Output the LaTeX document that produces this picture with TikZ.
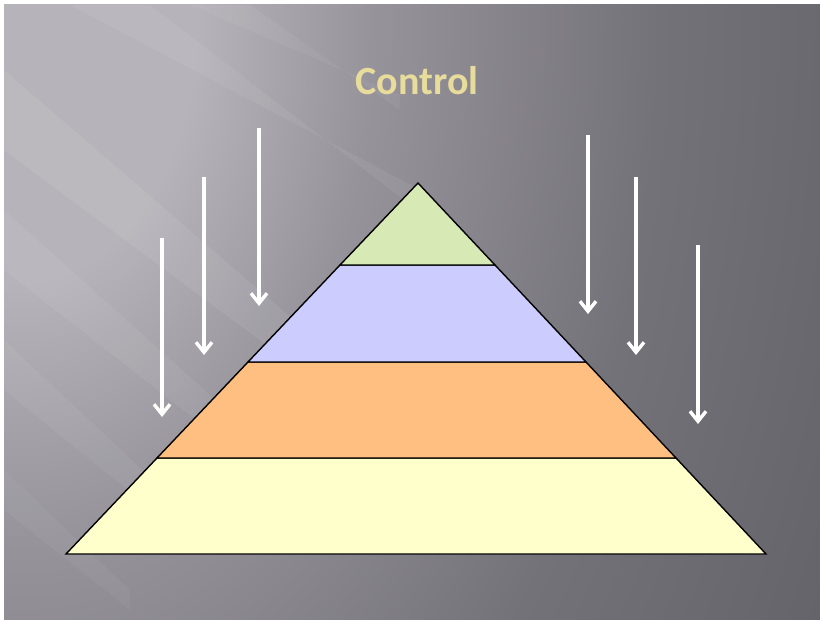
\documentclass[tikz,border=0pt]{standalone}
\usepackage{fontspec}
\newfontfamily\titlefont{Carlito}
\usetikzlibrary{arrows.meta,fadings}
\definecolor{bgA}{RGB}{182,179,186}
\definecolor{bgB}{RGB}{150,147,155}
\definecolor{bgM}{RGB}{116,114,121}
\definecolor{bgN}{RGB}{97,95,102}
\definecolor{bgC}{RGB}{84,82,89}
\definecolor{layA}{RGB}{215,233,181}
\definecolor{layB}{RGB}{204,204,255}
\definecolor{layC}{RGB}{255,191,128}
\definecolor{layD}{RGB}{255,255,204}
\definecolor{gold}{RGB}{232,220,156}
\pgfdeclareradialshading{bgshade}{\pgfpoint{0bp}{0bp}}{color(0bp)=(bgA); color(4.4bp)=(bgA); color(8.8bp)=(bgB); color(16bp)=(bgM); color(24.6bp)=(bgN); color(35bp)=(bgC); color(50bp)=(bgC)}
\tikzset{
  arr/.style={draw=white, line width=3.4pt, -{Straight Barb[length=10pt,width=16pt,line width=3.4pt]}},
  layer/.style={draw=black, line width=1.4pt, line join=miter}
}
\begin{document}
\begin{tikzpicture}[x=1pt,y=-1pt]
\useasboundingbox (0,0) rectangle (820,620);
\fill[white] (0,0) rectangle (820,620);
\begin{scope}
\clip (4,5) rectangle (820,620);
\fill[bgC] (4,5) rectangle (820,620);
\shade[shading=bgshade] (20,20) ellipse [x radius=1000, y radius=1480];
% light rays
\fill[white,opacity=0.07] (4,70) -- (4,150) -- (340,400) -- (340,360) -- cycle;
\fill[white,opacity=0.06] (4,210) -- (4,270) -- (260,470) -- (260,440) -- cycle;
\fill[white,opacity=0.06] (70,5) -- (150,5) -- (430,220) -- (430,195) -- cycle;
\fill[white,opacity=0.05] (4,340) -- (4,390) -- (190,540) -- (190,515) -- cycle;
\fill[white,opacity=0.05] (190,5) -- (250,5) -- (400,110) -- (400,95) -- cycle;
\fill[white,opacity=0.04] (4,470) -- (4,510) -- (130,610) -- (130,590) -- cycle;
\end{scope}
% title
\node[text=gold,font=\titlefont\bfseries\fontsize{40}{46}\selectfont] (title) at (417,81) {Control};
% pyramid
\coordinate (apex) at (418,183);
\coordinate (l1) at (340,265); \coordinate (r1) at (495,265);
\coordinate (l2) at (248,362); \coordinate (r2) at (586,362);
\coordinate (l3) at (157,458); \coordinate (r3) at (676,458);
\coordinate (l4) at (66,554);  \coordinate (r4) at (766,554);
\filldraw[layer,fill=layD] (l3) -- (r3) -- (r4) -- (l4) -- cycle;
\filldraw[layer,fill=layC] (l2) -- (r2) -- (r3) -- (l3) -- cycle;
\filldraw[layer,fill=layB] (l1) -- (r1) -- (r2) -- (l2) -- cycle;
\filldraw[layer,fill=layA] (apex) -- (r1) -- (l1) -- cycle;
% arrows
\coordinate (a1s) at (162,238); \coordinate (a1e) at (162,417);
\coordinate (a2s) at (204,177); \coordinate (a2e) at (204,355);
\coordinate (a3s) at (259,128); \coordinate (a3e) at (259,306);
\coordinate (a4s) at (588,135); \coordinate (a4e) at (588,314);
\coordinate (a5s) at (636,177); \coordinate (a5e) at (636,355);
\coordinate (a6s) at (698,245); \coordinate (a6e) at (698,424);
\draw[arr] (a1s) -- (a1e);
\draw[arr] (a2s) -- (a2e);
\draw[arr] (a3s) -- (a3e);
\draw[arr] (a4s) -- (a4e);
\draw[arr] (a5s) -- (a5e);
\draw[arr] (a6s) -- (a6e);
\end{tikzpicture}
\end{document}
